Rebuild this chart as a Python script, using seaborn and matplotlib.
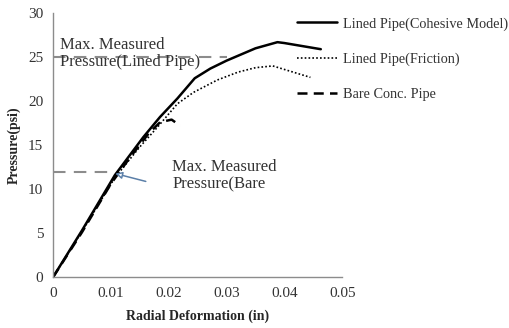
import pandas as pd
import matplotlib.pyplot as plt
import seaborn as sns

# Data
coh_x = [0, 0.005, 0.0107, 0.0156, 0.0185, 0.0215, 0.0245, 0.0272, 0.030, 0.035, 0.0388, 0.040, 0.0463]
coh_y = [0, 5.3, 11.6, 15.9, 18.2, 20.3, 22.6, 23.7, 24.6, 26.0, 26.7, 26.6, 25.9]

fric_x = [0, 0.005, 0.0107, 0.015, 0.018, 0.0215, 0.0243, 0.0284, 0.032, 0.035, 0.038, 0.0445]
fric_y = [0, 5.2, 11.3, 14.8, 17.0, 19.7, 21.0, 22.4, 23.3, 23.8, 24.0, 22.7]

bare_x = [0, 0.005, 0.010, 0.0133, 0.0165, 0.0185, 0.0205, 0.022]
bare_y = [0, 5.1, 10.6, 13.6, 16.3, 17.6, 17.9, 17.2]

lined_max = 25
bare_max = 12

sns.set_theme(style="white")
plt.rcParams['font.family'] = ['Liberation Serif', 'DejaVu Serif']

fig = plt.figure(figsize=(5.1, 3.28), dpi=100)
ax = fig.add_axes([0.104, 0.155, 0.567, 0.805])

# reference dashed gray lines
ax.plot([0, 0.030], [lined_max, lined_max], color='#8c8c8c', lw=1.5,
        dashes=(6, 4), zorder=1)
ax.plot([0, 0.0107], [bare_max, bare_max], color='#8c8c8c', lw=1.5,
        dashes=(6, 4), zorder=1)

sns.lineplot(x=coh_x, y=coh_y, ax=ax, color='black', lw=1.8,
             label='Lined Pipe(Cohesive Model)', sort=False)
sns.lineplot(x=fric_x, y=fric_y, ax=ax, color='black', lw=1.2,
             linestyle=(0, (1, 1.3)), label='Lined Pipe(Friction)', sort=False)
sns.lineplot(x=bare_x, y=bare_y, ax=ax, color='black', lw=1.8,
             linestyle=(0, (4, 2.5)), label='Bare Conc. Pipe', sort=False)

ax.set_xlim(0, 0.05)
ax.set_ylim(0, 30)
ax.set_xticks([0, 0.01, 0.02, 0.03, 0.04, 0.05])
ax.set_xticklabels(['0', '0.01', '0.02', '0.03', '0.04', '0.05'])
ax.set_yticks(range(0, 31, 5))

for side in ['top', 'right']:
    ax.spines[side].set_visible(False)
for side in ['left', 'bottom']:
    ax.spines[side].set_color('#8c8c8c')
    ax.spines[side].set_linewidth(1)
ax.tick_params(axis='both', direction='out', length=4, width=1,
               color='#8c8c8c', labelsize=11, labelcolor='#333333', pad=3)

ax.set_xlabel('Radial Deformation (in)', fontsize=10, fontweight='bold',
              labelpad=7)
ax.set_ylabel('Pressure(psi)', fontsize=10, fontweight='bold', labelpad=5)

# annotations
ax.text(0.0012, 27.3, 'Max. Measured\nPressure(Lined Pipe)', fontsize=12,
        color='#333333', va='top', ha='left', linespacing=1.1)
ax.text(0.0206, 13.4, 'Max. Measured\nPressure(Bare', fontsize=12,
        color='#333333', va='top', ha='left', linespacing=1.1)
ax.annotate('', xy=(0.0103, 11.85), xytext=(0.0165, 10.8),
            arrowprops=dict(arrowstyle='-|>', color='#5b7fa8', lw=1.1,
                            mutation_scale=10, fc='white'))

leg = ax.legend(loc='upper left', bbox_to_anchor=(0.582, 0.948),
                bbox_transform=fig.transFigure, frameon=False, fontsize=10.3,
                handlelength=2.8, handletextpad=0.4, labelspacing=1.55,
                borderpad=0, borderaxespad=0)
for t in leg.get_texts():
    t.set_color('#333333')

fig.savefig('out.png', dpi=100)
